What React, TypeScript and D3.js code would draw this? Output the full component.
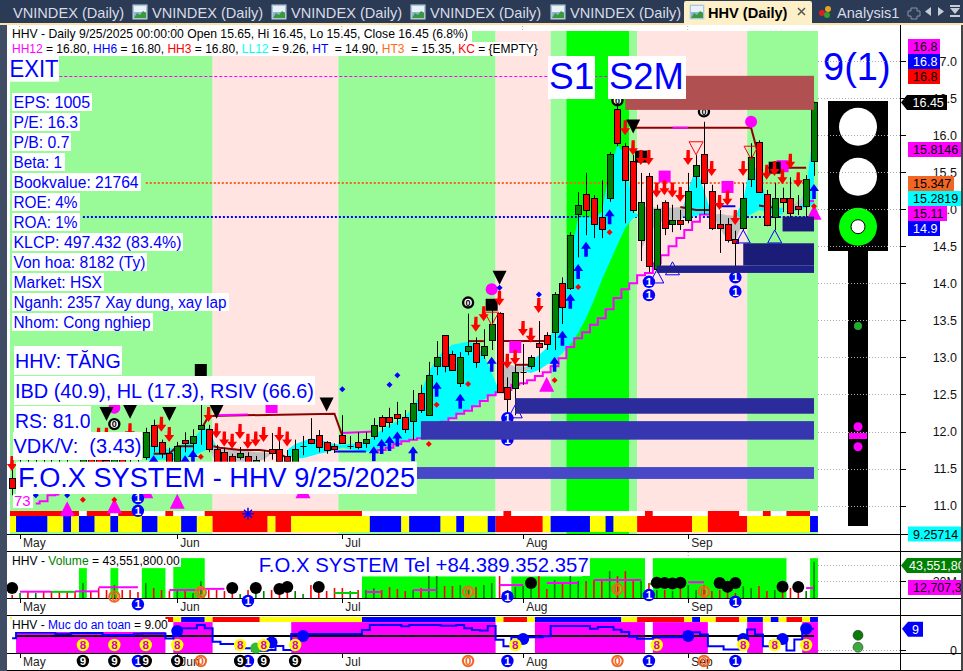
import React from "react";
import * as d3 from "d3";

const W = 963, H = 671;
const FONT = "'Liberation Sans', Arial, sans-serif";

// ---------- data ----------
const months = ["May", "Jun", "Jul", "Aug", "Sep"];
const monthBars = [1, 21, 42, 65, 86];
const priceTicks = [11, 11.5, 12, 12.5, 13, 13.5, 14, 14.5, 15, 15.5, 16, 16.5, 17];

const opens = [11.37,11.48,11.56,11.48,11.59,11.55,11.53,11.51,11.48,11.41,11.64,11.67,11.62,11.51,11.72,11.75,11.78,11.66,12.09,11.86,11.71,11.60,11.89,11.85,12.03,12.04,11.76,11.72,11.67,11.66,11.67,11.59,11.58,11.76,11.76,11.67,11.59,11.79,11.90,11.95,11.86,11.80,11.95,11.79,11.86,11.84,11.94,12.20,12.20,12.24,12.20,12.14,12.52,12.22,12.88,13.30,13.05,12.65,13.09,13.19,13.03,13.23,13.60,12.60,12.59,12.79,12.88,13.19,13.30,13.34,14.00,13.94,14.94,15.20,15.15,14.89,15.15,16.35,15.85,15.65,14.58,15.45,14.19,15.10,14.80,14.85,14.85,15.45,15.74,15.25,14.80,14.80,14.60,14.75,15.41,15.91,15.20,14.89,15.15,15.15,15.04,15.04,15.65];
const closes = [11.24,11.59,11.40,11.59,11.45,11.43,11.40,11.37,11.35,11.64,11.48,11.51,11.48,11.72,11.59,11.64,11.67,12.00,11.80,11.71,11.45,11.80,11.85,11.94,12.09,11.76,11.48,11.45,11.43,11.71,11.43,11.62,11.59,11.71,11.60,11.60,11.76,11.80,11.84,11.79,11.75,11.76,11.84,11.80,11.79,11.90,12.09,12.07,12.13,12.18,12.03,12.38,12.29,12.76,13.01,12.88,12.83,13.01,13.15,12.94,13.15,13.45,12.53,12.44,12.80,12.80,13.01,13.14,13.18,13.86,13.68,14.65,15.06,14.99,14.80,14.73,15.74,15.89,15.39,14.99,15.10,14.23,15.00,14.75,14.85,14.80,15.25,15.60,15.35,14.75,14.75,14.58,14.54,15.15,15.70,15.23,14.79,15.15,15.10,14.95,15.00,15.41,16.45];
const highs = [11.51,11.68,11.64,11.68,11.67,11.64,11.64,11.62,11.59,11.72,11.75,11.78,11.75,11.83,11.80,11.83,11.89,12.05,12.16,11.89,11.78,11.86,11.99,12.03,12.36,12.09,11.82,11.78,11.70,11.79,11.72,11.67,11.75,11.98,11.89,11.75,11.89,11.94,12.18,12.02,11.87,11.84,12.22,11.94,11.99,11.99,12.18,12.22,12.32,12.40,12.29,12.56,12.63,12.94,13.22,13.30,13.09,13.07,13.59,13.27,13.38,13.71,13.61,12.73,12.96,13.18,13.03,13.49,13.34,13.88,14.08,14.69,15.23,15.49,15.19,15.39,15.77,16.47,15.89,15.73,15.49,15.49,15.06,15.12,15.06,14.99,15.49,15.73,16.18,15.33,14.99,14.88,14.71,15.35,15.89,15.93,15.26,15.35,15.29,15.43,15.19,15.46,16.45];
const lows = [11.14,11.37,11.32,11.37,11.35,11.35,11.29,11.29,11.26,11.32,11.40,11.40,11.40,11.43,11.48,11.53,11.59,11.62,11.72,11.64,11.37,11.48,11.72,11.72,11.82,11.72,11.40,11.37,11.35,11.62,11.32,11.48,11.51,11.62,11.53,11.51,11.48,11.68,11.83,11.72,11.70,11.71,11.84,11.76,11.76,11.78,11.89,11.99,12.05,12.09,11.98,11.89,12.25,12.22,12.76,12.80,12.83,12.60,13.03,12.86,12.98,13.10,12.52,12.25,12.22,12.63,12.84,12.80,13.10,13.10,13.45,13.91,14.35,14.65,14.61,14.61,15.10,15.85,14.81,14.95,14.30,14.15,14.18,14.65,14.69,14.72,14.81,15.29,14.93,14.72,14.41,14.55,14.21,14.72,15.30,15.22,14.77,14.72,14.96,14.81,14.92,14.81,15.45];
const volumesM = [3.6,6,8.4,6,8.4,8.4,7.2,7.2,8.4,18,8.4,12,9.6,15.6,9.6,9.6,7.2,18,12,9.6,8.4,8.4,8.4,6,20.4,9.6,9.6,8.4,8.4,4.8,9.6,9.6,8.4,9.6,12,12,8.4,4.8,15.6,9.6,8.4,12,12,8.4,9.6,9.6,12,9.6,13.2,10.8,8.4,9.6,12,26.4,26.4,14.4,14.4,15.6,10,13.2,15.6,18,26.4,9.6,13.2,14.4,10.8,26.4,10.8,21.6,18,26.4,20.4,20.4,21.6,20.4,32.4,26.4,32.4,22.8,20.4,18,9.6,9.6,8.4,12,15.6,9.6,15.6,8.4,9.6,8.4,6,14.4,12,14.4,8.4,9.6,6,12,9.6,8.4,43.55];
const safetyLevels = [5.1,7.4,7.4,7.4,7.4,7.4,6.8,6.8,7.2,7.2,7.2,7.2,6.4,6.4,6.4,6.4,6.9,7,7,7,5,8.5,9.2,9.2,10.5,9.2,3.7,2.7,2.7,1,1,0,0,0.3,1.9,0.3,6.8,6.8,6.8,6.8,6.8,6.8,6.8,6.8,6.8,8.5,10.5,10.5,10.5,10.5,10,10.5,10.5,10.5,10.5,10.2,10.2,10.5,9.2,8.5,8.3,10.1,4.5,1.8,5.5,5.5,5.5,5.5,5.9,10.1,10.1,10.1,10.1,10.1,9,9.7,9.7,8.6,7.7,5.7,4.9,4.9,5.5,5.5,5.5,5.5,7.5,7.5,6.6,1.8,1.8,0.5,0.5,3.9,8.7,6.6,1.8,3.9,3.9,0.1,4.6,9.7,9];

// runs of bars: [colour key, number of bars]
const bandRuns: [string, number][] = [["lg",26],["pk",16],["lg",20],["pk",7],["lg",2],["bg",8],["lg",1],["pk",14],["lg",9]];
const stripRuns: [string, number][] = [["y",1],["b",4],["y",2],["b",1],["y",1],["b",2],["y",2],["b",1],["y",3],["b",2],["y",3],["b",2],["y",2],["r",7],["y",1],["r",2],["y",10],["b",4],["y",1],["b",4],["y",2],["b",1],["y",3],["b",1],["r",6],["y",1],["b",5],["y",2],["b",1],["y",3],["r",7],["y",2],["r",5],["y",8],["b",1]];
const flagRuns: [string, number][] = [["r",9],["w",1],["r",3],["w",1],["r",3],["w",3],["r",1],["w",4],["r",20],["w",18],["r",1],["w",17],["r",1],["w",7],["r",4],["w",3],["r",1],["w",2],["r",3],["w",1]];
const safetyStripRuns: [string, number][] = [["w",20],["r",1],["y",1],["b",3],["y",1],["r",6],["y",13],["b",17],["y",1],["r",3],["y",1],["b",11],["y",2],["r",6],["y",1],["b",1],["y",2],["r",3],["y",1],["b",2],["y",1],["b",1],["y",1],["r",2],["y",1],["b",1]];
// magenta safety blocks: first bar, last bar, top level
const safetyBlocks: [number, number, number][] = [[1,19,7.8],[21,25,11.7],[36,61,11.7],[67,80,11.7],[82,88,11.7],[94,95,11.7],[101,102,11.7]];
// volume green blocks: first bar, last bar, level in millions
const volBlocks: [number, number, number][] = [[9,9,36],[13,13,36],[17,19,36],[21,24,48],[45,61,26],[64,72,26],[73,80,48],[82,98,48],[102,102,48]];
// volume average pieces: first bar, last bar, level, colour
const volAvg: [number, number, number, string][] = [[1,5,7.6,"#ff00ff"],[5,8,7.4,"#00d000"],[8,11,8,"#ff00ff"],[11,16,13,"#ff00ff"],[20,24,9.6,"#ff00ff"],[24,27,11,"#ff00ff"],[41,44,6,"#00d000"],[45,47,7.2,"#ff00ff"],[51,54,9.6,"#ff00ff"],[62,65,15.6,"#ff00ff"],[68,72,18,"#ff00ff"],[74,80,21.7,"#ff00ff"],[81,82,17,"#00d000"],[86,88,19,"#ff00ff"],[101,102,12,"#ff00ff"]];

// clouds
const cyan1 = { start: 17, top: [11.82,11.82,11.79,11.76,11.80,11.84,11.89,12.02,12.05,11.78], bot: [11.62,11.62,11.62,11.62,11.62,11.64,11.67,11.72,11.76,11.78] };
const cyan2 = { start: 35, top: [11.75,11.83,11.87,11.91,11.89,11.86,11.83,11.82,11.83,11.84,11.86,11.94,12.02,12.09,12.14,12.21,12.32,12.53,12.80,12.99,13.10,13.17,13.19,13.21,13.17,13.03,12.80,12.53], bot: [11.68,11.64,11.64,11.67,11.70,11.72,11.75,11.78,11.76,11.74,11.72,11.75,11.78,11.80,11.84,11.87,11.91,11.91,11.99,12.06,12.13,12.18,12.24,12.29,12.34,12.43,12.49,12.53] };
const cyan3 = { start: 65, top: [12.82,12.95,13.03,13.13,13.44,13.81,14.34,14.89,14.89,14.89,14.96,15.53,15.87,15.73,14.96,14.91], bot: [12.82,12.79,12.83,12.90,12.95,13.06,13.17,13.33,13.53,13.77,14.04,14.28,14.52,14.75,14.88,14.91] };
const cyan4 = { start: 85, top: [14.91,15.26,15.57,15.26,14.92], bot: [14.91,14.89,14.91,14.92,14.92] };
const cyan5 = { start: 92, top: [14.91,15.12,15.66,15.46,15.12,15.02,15.02], bot: [14.91,14.88,14.93,14.99,14.96,14.93,14.93] };
const cyan6 = { start: 99, top: [15.02,15.06,15.26,16.14], bot: [14.96,14.99,15.02,15.06] };
const gray1 = { start: 62, top: [12.90,12.91,12.88,12.88,12.84], bot: [12.53,12.52,12.75,12.82,12.83] };
const gray2 = { start: 80, top: [15.04,15.03,15.02,15.02,15.02,15.03,14.99], bot: [14.45,14.68,14.79,14.85,14.83,14.85,14.99] };
const gray3 = { start: 89, top: [14.92,14.94,14.92,14.91,14.88], bot: [14.92,14.75,14.58,14.58,14.83] };
const gray4 = { start: 25, top: [11.80,11.78,11.75,11.75,11.74,11.74,11.72,11.72,11.70], bot: [11.80,11.55,11.55,11.55,11.55,11.55,11.60,11.62,11.70] };
const gray5 = { start: 99, top: [15.02,15.12,15.16], bot: [15.02,15.03,15.12] };

const supportStart = 46;
const support = [11.72,11.75,11.78,11.83,11.87,11.89,11.91,11.99,12.06,12.13,12.18,12.24,12.28,12.34,12.41,12.49,12.53,12.56,12.63,12.65,12.69,12.75,12.80,12.88,12.99,13.14,13.26,13.34,13.44,13.53,13.65,13.80,13.92,14.0,14.11,14.14,14.27,14.38,14.50,14.61,14.72,14.83,14.93,14.93];
const supportOld: [number, number][] = [[3,11.03],[4,11.06],[5,11.14],[6,11.15]];

const brownLines: [number, number][][] = [
  [[24,12.02],[25,12.21],[41,12.24],[42,11.94]],
  [[18,11.70],[20,11.70],[21,11.80],[23,11.80]],
  [[25.6,11.80],[26.4,11.78],[29,11.75],[31.5,11.75],[33.7,11.72],[35,11.64]],
  [[58,13.22],[60,13.22]],
  [[62,13.22],[68,13.22]],
  [[64,12.90],[66,12.90]],
  [[79,16.10],[94,16.10],[95,15.70]],
  [[85,15.03],[87,14.99],[89,14.99]],
  [[95,15.05],[97,15.02]],
  [[96,15.56],[101,15.56]],
];
const magentaLines: [number, number][][] = [
  [[26,12.22],[30,12.23]],
  [[42,11.98],[46,12.0]],
  [[84,16.10],[86,16.10]],
  [[101,15.11],[102,15.11]],
];
const blueLines: [number, number][][] = [[[41,11.73],[45,11.73]],[[90,15.04],[92,15.04]]];

const zones = [
  { start: 78, hi: 16.8, lo: 16.34, fill: "#b05050" },
  { start: 98, hi: 14.9, lo: 14.7, fill: "#1b1b78" },
  { start: 82, hi: 14.24, lo: 14.14, fill: "#20208a" },
  { start: 93, hi: 14.54, lo: 14.24, fill: "#1b1b78" },
  { start: 64, hi: 12.45, lo: 12.24, fill: "#2b2b9b" },
  { start: 52, hi: 12.14, lo: 11.89, fill: "#3636b0" },
  { start: 50, hi: 11.52, lo: 11.36, fill: "#4747c8" },
];

const redArrows: [number, number][] = [[0,11.67],[11,12.05],[12,12.05],[15,12.11],[19,12.2],[20,12.06],[25,12.33],[26,12.11],[27,12.0],[28,11.97],[29,12.1],[30,11.97],[31,12.0],[32,12.06],[34,12.06],[35,12.0],[59,13.55],[60,13.69],[62,13.9],[63,13.05],[64,13.1],[65,13.49],[66,13.4],[67,13.8],[78,16.2],[79,15.93],[80,15.8],[81,15.8],[82,15.36],[83,15.39],[84,15.36],[85,15.3],[86,15.8],[89,15.65],[90,15.19],[91,15.25],[92,14.99],[93,15.65],[96,15.6],[97,15.65],[98,15.54],[99,15.75],[100,15.5]];
const blueArrows: [number, number][] = [[54,12.67],[57,12.51],[61,13.01],[69,13.01],[70,13.36],[71,13.86],[72,14.26],[73,14.56],[76,15.0],[102,15.34],[46,11.8],[47,11.9],[48,11.94],[49,12.0],[51,11.8],[18,11.68],[22,11.68],[23,11.75]];
const blueDiamonds: [number, number][] = [[42,12.57],[48,12.63],[49,12.76],[62,13.94],[67,13.85],[7,11.14],[3,11.14]];
const redDiamonds: [number, number][] = [[58,12.64],[54,12.36],[69,12.69],[72,13.95],[76,14.69],[102,15.04],[24,11.66],[53,11.83],[9,11.08],[13,11.08]];
const magentaTris: [number, number][] = [[68,12.74],[7,11.06],[13,11.1],[21,11.16],[37,11.3],[17,11.3],[102,15.06]];
const magentaDots: [number, number][] = [[61,13.92],[94,16.18],[13,12.32]];
const magentaSquares: [number, number][] = [[64,13.14],[83,15.44],[91,15.3],[98,15.58],[33,12.33]];
const blackTris: [number, number][] = [[62,14.17],[79,16.21],[40,12.46],[12,12.33],[15,12.36],[20,12.33],[26,12.36]];
const blackSquares: [number, number][] = [[61,13.71],[80,15.71],[97,15.56],[24,12.83]];
const zeroIcons: [number, number][] = [[58,13.74],[13,12.1],[88,16.32],[77,16.47]];
const redHollow: [number, number][] = [[87,15.91],[94,15.85],[61,13.61]];
const blueHollow: [number, number][] = [[93,14.72],[97,14.72],[82,14.18],[64,12.36],[84,14.29]];
const oneIcons: [number, number][] = [[81,14.02],[81,13.84],[92,14.08],[92,13.89],[16,11.1],[16,10.93],[63,12.18],[63,11.89]];
const volBlackDots: [number, number][] = [[0,12],[28,12],[31,12],[34,10.8],[35,13.3],[39,13.3],[66,18],[82,18.4],[83,18],[84,17.5],[85,18.4],[90,18],[91,13.6],[92,18],[98,13.6],[100,13.3]];
const volZeros: [number, number][] = [[13,1.6],[24,6.9],[58,7.6],[77,10.8],[88,7.6]];
const volOnes: [number, number][] = [[16,-7.6],[30,-3.6],[63,1.6],[81,3.6],[92,-4.5]];
const eightBars = [9,13,17,21,29,32,36,64,82,93,97,101];
const nineBars = [9,13,17,21,29,32,36];
const rowOnes = [16,30,63,81,92];
const rowZeros = [24,58,77,88];
const safetyDots: [number, number][] = [[21,8.1],[33,3.4],[37,6],[65,4.8],[86,6],[93,4.8],[98,4.8],[101,9]];

const infoLines = ["EPS: 1005","P/E: 16.3","P/B: 0.7","Beta: 1","Bookvalue: 21764","ROE: 4%","ROA: 1%","KLCP: 497.432 (83.4%)","Von hoa: 8182 (Ty)","Market: HSX","Nganh: 2357 Xay dung, xay lap","Nhom: Cong nghiep"];
const infoBoxWidths = [80,68,59,53,129,68,68,171,135,92,217,141];
const infoTextWidths = [76.7,64.5,56,48.5,125,64,64,168,132,88.5,213,137];
const headerOne = "HHV - Daily 9/25/2025 00:00:00 Open 15.65, Hi 16.45, Lo 15.45, Close 16.45 (6.8%)";
const headerTwo: [string, string][] = [["HH12","#ff00ff"],[" = 16.80, ","#000"],["HH6","#0000ff"],[" = 16.80, ","#000"],["HH3","#ff0000"],[" = 16.80, ","#000"],["LL12","#00ffff"],[" = 9.26, ","#000"],["HT ","#0000ff"],[" = 14.90, ","#000"],["HT3 ","#ff6a13"],[" = 15.35, ","#000"],["KC","#ff0000"],[" = {EMPTY}","#000"]];
const tabTextX = [13, 152, 291, 430, 570];
const priceLabels = [
  { text: "16.8", y: 46.5, w: 32, bg: "#ff00ff", fg: "#000" },
  { text: "16.8", y: 61.5, w: 32, bg: "#0000ff", fg: "#fff" },
  { text: "16.8", y: 76.5, w: 32, bg: "#ff0000", fg: "#000" },
  { text: "15.8146", y: 149.5, w: 53, bg: "#ff00ff", fg: "#000" },
  { text: "15.347", y: 183.5, w: 46, bg: "#f26522", fg: "#000" },
  { text: "15.2819", y: 198.5, w: 53, bg: "#00ffff", fg: "#000" },
  { text: "15.11", y: 213.5, w: 39, bg: "#ff00ff", fg: "#000" },
  { text: "14.9", y: 228.5, w: 32, bg: "#0000ff", fg: "#fff" },
  { text: "9.25714", y: 534, w: 53, bg: "#00ffff", fg: "#000" },
  { text: "12,707,320", y: 587.5, w: 53, bg: "#ff00ff", fg: "#000" },
];

// ---------- scales ----------
const x = d3.scaleLinear().domain([0, 102]).range([12.14, 814]);
const step = x(1) - x(0);
const y = d3.scaleLinear().domain([11, 17]).range([505.6, 61]);
const yVol = d3.scaleLinear().domain([0, 20]).range([598, 581.4]);
const ySafe = d3.scaleLinear().domain([0, 9]).range([650.7, 628.7]);

const COL: Record<string, string> = { lg: "#98fb98", pk: "#ffe4e1", bg: "#00ff00", y: "#ffff00", b: "#0000ff", r: "#ff0000", w: "#ffffff" };

function expand(runs: [string, number][]) {
  let at = 0;
  return runs.map(([k, n]) => { const r = { k, a: at, b: at + n - 1 }; at += n; return r; });
}
const left = (j: number) => Math.max(10, x(j) - step / 2);
const right = (j: number) => x(j) + step / 2;
const snap = (v: number) => Math.round(v) + 0.5;

const linePath = d3.line<[number, number]>().x((d) => x(d[0])).y((d) => y(d[1]));
function cloudPath(c: { start: number; top: number[]; bot: number[] }) {
  return d3.area<number>().x((_, i) => x(c.start + i)).y0((_, i) => y(c.bot[i])).y1((d) => y(d))(c.top) || "";
}
const stepLine = d3.line<number>().x((_, i) => x(i + supportStart)).y((d) => y(d)).curve(d3.curveStep);
const safeLine = d3.line<number>().x((_, i) => x(i)).y((d) => ySafe(d)).curve(d3.curveStep);
const oldLine = d3.line<[number, number]>().x((d) => x(d[0])).y((d) => y(d[1])).curve(d3.curveStep);

const downArrow = (cx: number, t: number) => `M${cx - 1.6},${t}h3.2v8h3.2l-5,7l-5,-7h3.2z`;
const upArrow = (cx: number, t: number) => `M${cx},${t}l5,7h-3.2v8h-3.6v-8h-3.2z`;

function Badge({ cx, cy, fill, digit, fg = "#fff", ring }: { cx: number; cy: number; fill: string; digit: string; fg?: string; ring?: string }) {
  return (
    <g>
      <circle cx={cx} cy={cy} r={ring ? 5.2 : 6.2} fill={fill} stroke={ring || "none"} strokeWidth={ring ? 2 : 0} />
      <text x={cx} y={cy + 4.1} textAnchor="middle" fontSize={11.5} fontWeight="bold" fill={fg} fontFamily={FONT}>{digit}</text>
    </g>
  );
}

function Boxed({ x0, y0, w, h, size, text, base, color = "#0000ff", tx, len }: { x0: number; y0: number; w: number; h: number; size: number; text: string; base: number; color?: string; tx?: number; len?: number }) {
  return (
    <g>
      <rect x={x0} y={y0} width={w} height={h} fill="#fff" />
      <text x={tx ?? x0 + 1.5} y={base} fontSize={size} fill={color} fontFamily={FONT} xmlSpace="preserve" textLength={len} lengthAdjust={len ? "spacingAndGlyphs" : undefined}>{text}</text>
    </g>
  );
}

function TabIcon({ px }: { px: number }) {
  return (
    <g>
      <rect x={px} y={5} width={14} height={14} fill="#8fb6d8" stroke="#c8d4e0" />
      <rect x={px + 1} y={6} width={12} height={6} fill="#e8f2fa" />
      <path d={`M${px + 1},18 l3,-5 l3,2 l3,-4 l3,2 v5z`} fill="#3a9a3a" />
    </g>
  );
}

export default function App() {
  return (
    <svg width={W} height={H} viewBox={`0 0 ${W} ${H}`} style={{ position: "absolute", left: 0, top: 0, display: "block" }} fontFamily={FONT}>
      <rect width={W} height={H} fill="#fff" />

      {/* main background bands */}
      {expand(bandRuns).map((r, i) => (
        <rect key={i} x={left(r.a)} width={right(r.b) - left(r.a)} y={31} height={503} fill={COL[r.k]} />
      ))}
      {/* colour strips */}
      {expand(flagRuns).map((r, i) => (
        <rect key={i} x={left(r.a)} width={right(r.b) - left(r.a)} y={511} height={5} fill={COL[r.k]} />
      ))}
      {expand(stripRuns).map((r, i) => (
        <rect key={i} x={left(r.a)} width={right(r.b) - left(r.a)} y={516} height={16} fill={COL[r.k]} />
      ))}

      {/* reference levels */}
      <line x1={x(6)} x2={x(78)} y1={snap(y(16.8))} y2={snap(y(16.8))} stroke="#ff00ff" strokeDasharray="3 2" />
      <line x1={x(17)} x2={x(102)} y1={Math.round(y(15.347))} y2={Math.round(y(15.347))} stroke="#f26522" strokeWidth={2} strokeDasharray="2 2" />
      <line x1={x(9)} x2={x(102)} y1={Math.round(y(14.9))} y2={Math.round(y(14.9))} stroke="#0000ff" strokeWidth={2} strokeDasharray="2 2" />

      {/* clouds */}
      {[cyan1, cyan2, cyan3, cyan4, cyan5, cyan6].map((c, i) => <path key={i} d={cloudPath(c)} fill="#00ffff" />)}
      {[gray1, gray2, gray3, gray4, gray5].map((c, i) => <path key={i} d={cloudPath(c)} fill="#c0c0c0" />)}

      {/* lines under candles */}
      <path d={stepLine(support) || ""} fill="none" stroke="#ff00ff" strokeWidth={2} />
      <path d={oldLine(supportOld) || ""} fill="none" stroke="#ff00ff" strokeWidth={2} />
      {brownLines.map((l, i) => <path key={i} d={linePath(l) || ""} fill="none" stroke="#8b0000" strokeWidth={2} />)}
      {magentaLines.map((l, i) => <path key={i} d={linePath(l) || ""} fill="none" stroke="#ff00ff" strokeWidth={2} />)}
      {blueLines.map((l, i) => <path key={i} d={linePath(l) || ""} fill="none" stroke="#0000ff" strokeWidth={2} />)}

      {/* candles */}
      {opens.map((o, j) => {
        const c = closes[j];
        const up = c >= o;
        const cx = Math.round(x(j)) + 0.5;
        const top = Math.round(y(Math.max(o, c))) + 0.5;
        const bot = Math.round(y(Math.min(o, c))) + 0.5;
        const doji = bot - top < 2;
        return (
          <g key={j}>
            <line x1={cx} x2={cx} y1={y(highs[j])} y2={y(lows[j])} stroke="#000" />
            {doji ? <line x1={cx - 3} x2={cx + 3} y1={top} y2={top} stroke="#000" /> :
              <rect x={cx - 3} y={top} width={6} height={bot - top} fill={up ? "#008000" : "#ff0000"} stroke="#000" />}
          </g>
        );
      })}

      {/* markers */}
      {zeroIcons.map(([j, p], i) => (
        <g key={i}>
          <circle cx={x(j)} cy={y(p)} r={5} fill="#fff" stroke="#000" strokeWidth={2.4} />
          <text x={x(j)} y={y(p) + 3.3} textAnchor="middle" fontSize={9} fontWeight="bold">0</text>
        </g>
      ))}
      {magentaSquares.map(([j, p], i) => <rect key={i} x={x(j) - 6} y={y(p) - 6} width={12} height={12} fill="#ff00ff" />)}
      {magentaDots.map(([j, p], i) => <circle key={i} cx={x(j)} cy={y(p)} r={6} fill="#ff00ff" />)}
      {blackSquares.map(([j, p], i) => <rect key={i} x={x(j) - 6} y={y(p) - 6} width={12} height={12} fill="#000" />)}
      {magentaTris.map(([j, p], i) => <path key={i} d={`M${x(j)},${y(p)}l7.5,15h-15z`} fill="#ff00ff" />)}
      {redHollow.map(([j, p], i) => <path key={i} d={`M${x(j) - 7},${y(p)}h14l-7,13z`} fill="none" stroke="#ff0000" />)}
      {blueHollow.map(([j, p], i) => <path key={i} d={`M${x(j)},${y(p)}l7,13h-14z`} fill="none" stroke="#0000ff" />)}
      {redArrows.map(([j, p], i) => <path key={i} d={downArrow(x(j), y(p))} fill="#ff0000" />)}
      {blueArrows.map(([j, p], i) => <path key={i} d={upArrow(x(j), y(p))} fill="#0000ff" />)}
      {blackTris.map(([j, p], i) => <path key={i} d={`M${x(j) - 7},${y(p)}h14l-7,14z`} fill="#000" />)}
      {blueDiamonds.map(([j, p], i) => <path key={i} d={`M${x(j)},${y(p) - 3}l3,3l-3,3l-3,-3z`} fill="#0000ff" />)}
      {redDiamonds.map(([j, p], i) => <path key={i} d={`M${x(j)},${y(p) - 3}l3,3l-3,3l-3,-3z`} fill="#ff0000" />)}
      {oneIcons.map(([j, p], i) => <Badge key={i} cx={x(j)} cy={y(p)} fill="#0000ff" digit="1" />)}
      <g stroke="#0000ff" strokeWidth={1.5} fill="none">
        <path d={`M${x(30)},${y(10.89) - 6}v12M${x(30) - 6},${y(10.89)}h12M${x(30) - 4},${y(10.89) - 4}l8,8M${x(30) + 4},${y(10.89) - 4}l-8,8`} />
      </g>

      {/* price zones */}
      {zones.map((z, i) => <rect key={i} x={x(z.start)} width={x(102) - x(z.start)} y={y(z.hi)} height={y(z.lo) - y(z.hi)} fill={z.fill} />)}

      {/* text boxes main */}
      <rect x={10} y={28} width={462} height={14} fill="#fff" />
      <rect x={10} y={42} width={527} height={14} fill="#fff" />
      <text x={12} y={38} fontSize={12.4} fill="#000" textLength={456} lengthAdjust="spacingAndGlyphs">{headerOne}</text>
      <text x={12} y={52.5} fontSize={12} xmlSpace="preserve">{headerTwo.map(([t, c], i) => <tspan key={i} fill={c}>{t}</tspan>)}</text>
      <Boxed x0={10} y0={56} w={49} h={25.7} size={23.5} text="EXIT" base={77.3} tx={9.5} len={49} />
      <Boxed x0={548} y0={56} w={47} h={43} size={37} text="S1" base={89.3} tx={549} />
      <Boxed x0={608} y0={56} w={78} h={43} size={37} text="S2M" base={89.3} tx={609} len={75} />
      {infoLines.map((t, i) => (
        <Boxed key={i} x0={12} y0={93 + i * 20} w={infoBoxWidths[i]} h={18} size={16} text={t} base={107.5 + i * 20} tx={13.5} len={infoTextWidths[i]} />
      ))}
      <Boxed x0={14} y0={346} w={108} h={29} size={19.5} text="HHV: TĂNG" base={368} tx={15} len={105.7} />
      <Boxed x0={14} y0={376} w={301} h={29} size={19.7} text="IBD (40.9), HL (17.3), RSIV (66.6)" base={398} tx={15} len={299} />
      <Boxed x0={14} y0={406} w={77} h={26} size={19.5} text="RS: 81.0" base={428} tx={15} len={75.5} />
      <Boxed x0={13} y0={432} w={129} h={28} size={19.7} text="VDK/V:  (3.43)" base={453} tx={13.5} len={128} />
      <Boxed x0={16} y0={461.7} w={401} h={32.3} size={27} text="F.O.X SYSTEM - HHV 9/25/2025" base={487} tx={18} len={397} />
      <Boxed x0={13} y0={494} w={20} h={14} size={15} text="73" base={506} color="#ff00ff" tx={14} />

      {/* axes frame */}
      {[534, 551, 598, 615, 653, 670].map((ly) => <line key={ly} x1={7} x2={961} y1={ly + 0.5} y2={ly + 0.5} stroke="#000" />)}
      <line x1={900.5} x2={900.5} y1={25} y2={670} stroke="#000" />
      {monthBars.map((j) => <line key={j} x1={x(j) - 0.5} x2={x(j) - 0.5} y1={26} y2={31} stroke="#aaa" strokeDasharray="1 2" />)}
      {[534, 598, 653].flatMap((ly) => months.map((m, i) => (
        <g key={`${ly}${m}`}>
          <line x1={Math.round(x(monthBars[i])) + 0.5} x2={Math.round(x(monthBars[i])) + 0.5} y1={ly} y2={ly + 5} stroke="#000" />
          <text x={x(monthBars[i]) + 3} y={ly + 12.5} fontSize={12} fill="#222">{m}</text>
        </g>
      )))}

      {/* volume pane */}
      {volBlocks.map(([a, b, v], i) => <rect key={i} x={left(a)} width={right(b) - left(a)} y={yVol(v)} height={598 - yVol(v)} fill="#00ff00" />)}
      <line x1={x(86)} x2={x(86)} y1={552} y2={558} stroke="#aaa" strokeDasharray="1 2" />
      {volumesM.map((v, j) => (
        <rect key={j} x={x(j) - 0.75} width={1.6} y={yVol(v)} height={598 - yVol(v)} fill={closes[j] >= opens[j] ? "#008000" : "#ff0000"} />
      ))}
      {volAvg.map(([a, b, v, c], i) => <line key={i} x1={x(a)} x2={x(b)} y1={yVol(v)} y2={yVol(v)} stroke={c} strokeWidth={2} />)}
      {volBlackDots.map(([j, v], i) => <circle key={i} cx={x(j)} cy={yVol(v)} r={6} fill="#000" />)}
      {volZeros.map(([j, v], i) => <Badge key={i} cx={x(j)} cy={yVol(v)} fill="none" ring="#f26522" digit="0" fg="#f26522" />)}
      {volOnes.map(([j, v], i) => <Badge key={i} cx={x(j)} cy={yVol(v)} fill="#0000ff" digit="1" />)}
      <rect x={10} y={554} width={171} height={13} fill="#fff" />
      <text x={12} y={565} fontSize={12.1}><tspan>HHV - </tspan><tspan fill="#008000">Volume</tspan><tspan> = 43,551,800.00</tspan></text>
      <Boxed x0={257} y0={553} w={333} h={23} size={20.4} text="F.O.X SYSTEM Tel +84.389.352.357" base={571.7} tx={258.7} len={330} />

      {/* safety pane */}
      {expand(safetyStripRuns).map((r, i) => (
        <rect key={i} x={left(r.a)} width={right(r.b) - left(r.a)} y={617} height={5} fill={COL[r.k]} />
      ))}
      <rect x={10} y={617} width={2} height={5} fill="#ffff00" />
      {safetyBlocks.map(([a, b, lv], i) => <rect key={i} x={left(a)} width={right(b) - left(a)} y={ySafe(lv)} height={653 - ySafe(lv)} fill="#ff00ff" />)}
      <line x1={left(1)} x2={x(102)} y1={636} y2={636} stroke="#000" strokeWidth={2} />
      <path d={safeLine(safetyLevels) || ""} fill="none" stroke="#0000ff" strokeWidth={2} />
      <rect x={10} y={619} width={158} height={13} fill="#fff" />
      <text x={12} y={629} fontSize={12}><tspan>HHV - </tspan><tspan fill="#0000ff">Muc do an toan</tspan><tspan> = 9.00</tspan></text>
      {safetyDots.map(([j, v], i) => <circle key={i} cx={x(j)} cy={ySafe(v)} r={6} fill="#0000ff" />)}
      <circle cx={x(31)} cy={ySafe(1.1)} r={5.5} fill="#33bb33" />
      {eightBars.map((j) => <Badge key={j} cx={x(j)} cy={645} fill="#ffff00" digit="8" fg="#d000d0" />)}
      {rowOnes.map((j) => <Badge key={j} cx={x(j)} cy={661} fill="#0000ff" digit="1" />)}
      {nineBars.map((j) => <Badge key={j} cx={x(j)} cy={661} fill="#000" digit="9" />)}
      {rowZeros.map((j) => <Badge key={j} cx={x(j)} cy={661} fill="none" ring="#f26522" digit="0" fg="#f26522" />)}

      {/* traffic light */}
      <text x={823} y={80} fontSize={38} fill="#0000ff">9(1)</text>
      <rect x={828} y={101} width={60} height={150} fill="#000" />
      <rect x={848} y={250} width={20} height={276} fill="#000" />
      <circle cx={858} cy={126.7} r={19} fill="#fff" />
      <circle cx={858} cy={176.7} r={19} fill="#fff" />
      <circle cx={858} cy={226.7} r={19} fill="#00ff00" />
      <circle cx={858} cy={226.7} r={7} fill="#fff" stroke="#000" />
      <circle cx={858} cy={326} r={4} fill="#22aa33" />
      <circle cx={858} cy={426.7} r={4.5} fill="#ff00ff" />
      <rect x={849} y={433} width={18} height={6} fill="#ff00ff" />
      <circle cx={858} cy={446.7} r={4.5} fill="#ff00ff" />
      <circle cx={858} cy={635.3} r={5} fill="#0a7a0a" stroke="#222" strokeWidth={0.5} />
      <circle cx={858} cy={647.3} r={5} fill="#3aaa3a" stroke="#222" strokeWidth={0.5} />

      {/* price axis */}
      {priceTicks.map((t) => (
        <g key={t}>
          <line x1={818} x2={900} y1={Math.round(y(t)) + 0.5} y2={Math.round(y(t)) + 0.5} stroke="#aaa" strokeDasharray="1 2" />
          <line x1={901} x2={906} y1={Math.round(y(t)) + 0.5} y2={Math.round(y(t)) + 0.5} stroke="#000" />
          <text x={957} y={y(t) + 4.5} textAnchor="end" fontSize={12.5} fill="#111">{t.toFixed(1)}</text>
        </g>
      ))}
      <line x1={818} x2={900} y1={565.5} y2={565.5} stroke="#aaa" strokeDasharray="1 2" />
      <line x1={818} x2={900} y1={581.5} y2={581.5} stroke="#aaa" strokeDasharray="1 2" />
      <line x1={901} x2={906} y1={581.5} y2={581.5} stroke="#000" />
      <text x={957} y={586} textAnchor="end" fontSize={12.5} fill="#111">20M</text>
      <line x1={818} x2={900} y1={650.5} y2={650.5} stroke="#aaa" strokeDasharray="1 2" />
      <line x1={901} x2={906} y1={650.5} y2={650.5} stroke="#000" />
      <text x={957} y={655} textAnchor="end" fontSize={12.5} fill="#111">0</text>

      {priceLabels.map((l, i) => (
        <g key={i}>
          <rect x={908} y={l.y - 7.5} width={l.w} height={15} fill={l.bg} />
          <text x={913} y={l.y + 4.5} fontSize={12.5} fill={l.fg}>{l.text}</text>
        </g>
      ))}
      <path d="M901,102.5l6,-7.5h40v15h-40z" fill="#000" />
      <text x={912.5} y={107} fontSize={12.5} fill="#fff">16.45</text>
      <path d="M901,565.5l6,-7.5h54v15h-54z" fill="#008000" />
      <text x={909} y={570} fontSize={12.5} fill="#fff">43,551,800</text>
      <path d="M902,628.7l6,-7h15v15h-15z" fill="#0000ff" />
      <text x={912} y={633.5} fontSize={12.5} fill="#fff">9</text>
      <rect x={961} y={25} width={2} height={646} fill="#444" />

      {/* tab bar */}
      <rect x={0} y={0} width={W} height={23} fill="#2b3a55" />
      <rect x={0} y={23} width={W} height={2} fill="#f9e3a8" />
      <rect x={0} y={25} width={7} height={H - 25} fill="#3f4c63" />
      {tabTextX.map((tx) => (
        <g key={tx}>
          {tx > 13 && <TabIcon px={tx - 19} />}
          <text x={tx} y={17.5} fontSize={14.6} fill="#d8dde6">VNINDEX (Daily)</text>
        </g>
      ))}
      <rect x={684} y={1} width={128} height={24} rx={2} fill="#fdf0c8" />
      <TabIcon px={690} />
      <text x={708} y={17.5} fontSize={14.6} fontWeight="bold" fill="#000">HHV (Daily)</text>
      <path d="M798,8l7,7M805,8l-7,7" stroke="#555" strokeWidth={1.5} />
      <circle cx={822} cy={13} r={3} fill="#e02020" />
      <circle cx={828} cy={9} r={3} fill="#e8a020" />
      <circle cx={827} cy={15} r={3} fill="#30a030" />
      <text x={837} y={17.5} fontSize={14.6} fill="#d8dde6">Analysis1</text>
      <path d="M911,8h6v3h3v5h-3v3h-6v-3h-3v-5h3z" fill="none" stroke="#8a94a6" />
      <path d="M931,7v9l-6,-4.5z" fill="#c8ccd4" />
      <path d="M938,7v9l6,-4.5z" fill="#c8ccd4" />
      <path d="M950,8h10l-5,6zM950,15h10v2h-10zM950,5h10v2h-10z" fill="#c8ccd4" />
    </svg>
  );
}
